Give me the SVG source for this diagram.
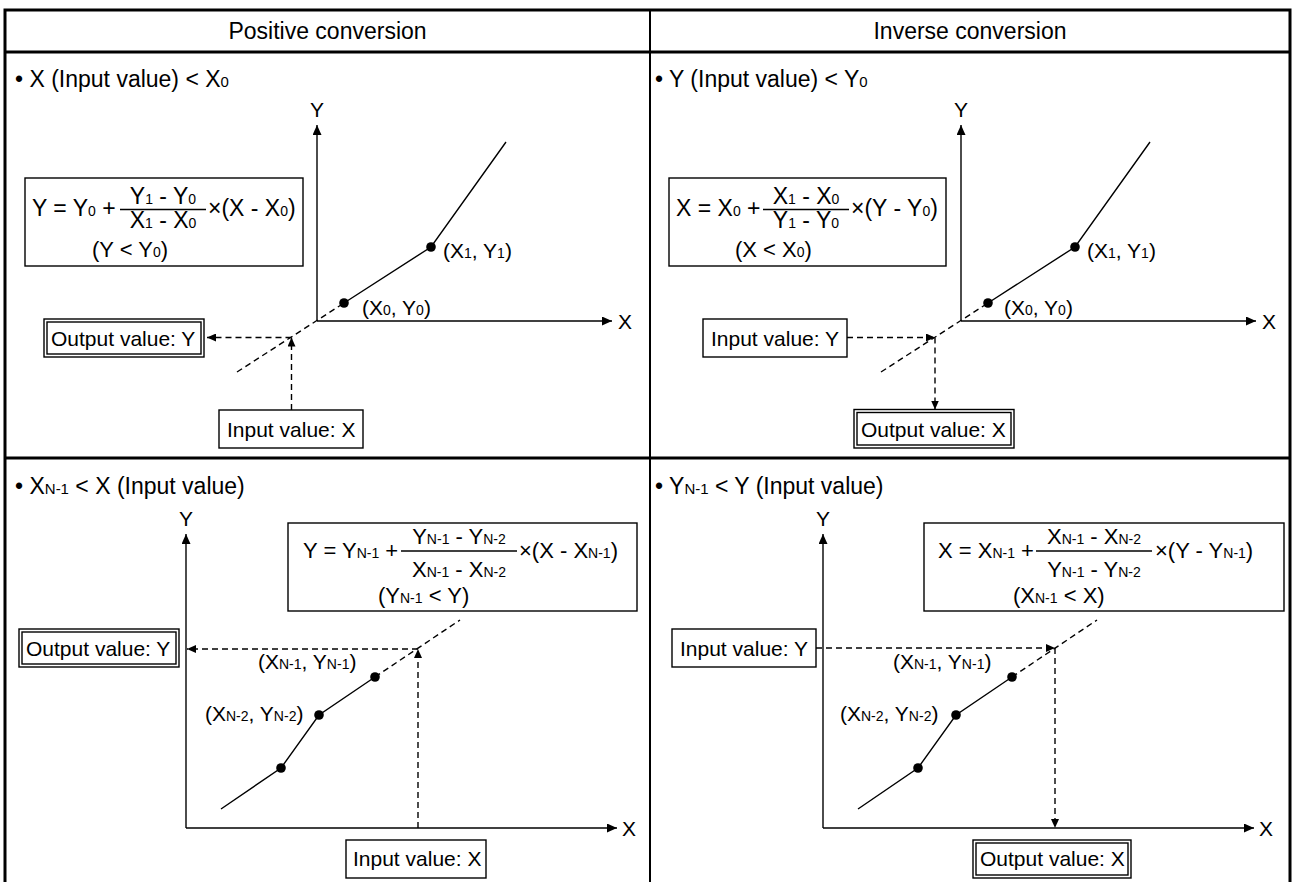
<svg xmlns="http://www.w3.org/2000/svg" width="1295" height="882" viewBox="0 0 1295 882">
<style>
text{font-family:"Liberation Sans",Arial,sans-serif;font-size:21px;fill:#000}
.h{font-size:23px}
.f{font-size:22px}
.f3{font-size:23px}
.s{font-size:14px}
.s2{font-size:15px}
.ln{stroke:#000;stroke-width:1.4;fill:none}
.ds{stroke-dasharray:6 4}
.box{fill:#fff;stroke:#000;stroke-width:1.4}
.tb{stroke:#000;stroke-width:3;fill:none}
.dv{stroke:#000;stroke-width:2;fill:none}
</style>
<defs>
<marker id="ah" viewBox="0 0 10 9" refX="10" refY="4.5" markerWidth="10" markerHeight="9" markerUnits="userSpaceOnUse" orient="auto"><path d="M0,0 L10,4.5 L0,9 z" fill="#000"/></marker>
<marker id="ahs" viewBox="0 0 9 8" refX="9" refY="4" markerWidth="9" markerHeight="8" markerUnits="userSpaceOnUse" orient="auto"><path d="M0,0 L9,4 L0,8 z" fill="#000"/></marker>
</defs>
<rect x="0" y="0" width="1295" height="882" fill="#fff"/>

<g id="table">
<path class="tb" d="M5,890 V10 H1290 V890"/>
<path class="tb" d="M5,52 H1290"/>
<path class="tb" d="M5,458 H1290"/>
<path class="dv" d="M650,10 V890"/>
</g>

<g id="hdr-positive"><text class="h" x="327.5" y="39" text-anchor="middle">Positive conversion</text></g>
<g id="hdr-inverse"><text class="h" x="970" y="39" text-anchor="middle">Inverse conversion</text></g>

<!-- Top-left panel -->
<g id="tl-cond"><text class="h" x="15" y="87">• X (Input value) &lt; X<tspan class="s2">0</tspan></text></g>
<g id="tl-formula">
<rect class="box" x="25" y="178" width="278" height="88"/>
<text class="f3" x="32" y="216">Y = Y<tspan class="s">0</tspan> +</text>
<text class="f3" x="163" y="204" text-anchor="middle">Y<tspan class="s">1</tspan> - Y<tspan class="s">0</tspan></text>
<line class="ln" x1="120" y1="209.5" x2="206" y2="209.5"/>
<text class="f3" x="163" y="228" text-anchor="middle">X<tspan class="s">1</tspan> - X<tspan class="s">0</tspan></text>
<text class="f3" x="208" y="216">×(X - X<tspan class="s">0</tspan>)</text>
<text class="f" x="92" y="257">(Y &lt; Y<tspan class="s">0</tspan>)</text>
</g>
<g id="tl-axes">
<path class="ln" d="M317,321 V125" marker-end="url(#ah)"/>
<path class="ln" d="M317,321 H612" marker-end="url(#ah)"/>
<text x="317" y="117" text-anchor="middle">Y</text>
<text x="618" y="329">X</text>
</g>
<g id="tl-curve">
<path class="ln" d="M344,303 L431,247 L506,142"/>
<path class="ln ds" d="M237,372 L344,303"/>
</g>
<g id="tl-p0"><circle cx="344" cy="303" r="4.8"/><text x="362" y="315">(X<tspan class="s">0</tspan>, Y<tspan class="s">0</tspan>)</text></g>
<g id="tl-p1"><circle cx="431" cy="247" r="4.8"/><text x="443" y="258">(X<tspan class="s">1</tspan>, Y<tspan class="s">1</tspan>)</text></g>
<g id="tl-output">
<rect class="box" x="44" y="319" width="160" height="38"/>
<rect class="box" x="47" y="322" width="154" height="32"/>
<text x="51" y="346">Output value: Y</text>
</g>
<g id="tl-input">
<rect class="box" x="219" y="410" width="144" height="38"/>
<text x="227" y="437">Input value: X</text>
</g>

<!-- Top-right panel -->
<g id="tr-cond"><text class="h" x="655" y="87">• Y (Input value) &lt; Y<tspan class="s2">0</tspan></text></g>
<g id="tr-formula">
<rect class="box" x="669" y="178" width="277" height="88"/>
<text class="f3" x="676" y="216">X = X<tspan class="s">0</tspan> +</text>
<text class="f3" x="806" y="204" text-anchor="middle">X<tspan class="s">1</tspan> - X<tspan class="s">0</tspan></text>
<line class="ln" x1="763" y1="209.5" x2="849" y2="209.5"/>
<text class="f3" x="806" y="228" text-anchor="middle">Y<tspan class="s">1</tspan> - Y<tspan class="s">0</tspan></text>
<text class="f3" x="851" y="216">×(Y - Y<tspan class="s">0</tspan>)</text>
<text class="f" x="735" y="257">(X &lt; X<tspan class="s">0</tspan>)</text>
</g>
<g id="tr-axes">
<path class="ln" d="M961,321 V125" marker-end="url(#ah)"/>
<path class="ln" d="M961,321 H1256" marker-end="url(#ah)"/>
<text x="961" y="117" text-anchor="middle">Y</text>
<text x="1262" y="329">X</text>
</g>
<g id="tr-curve">
<path class="ln" d="M988,303 L1075,247 L1150,142"/>
<path class="ln ds" d="M881,372 L988,303"/>
</g>
<g id="tr-p0"><circle cx="988" cy="303" r="4.8"/><text x="1004" y="315">(X<tspan class="s">0</tspan>, Y<tspan class="s">0</tspan>)</text></g>
<g id="tr-p1"><circle cx="1075" cy="247" r="4.8"/><text x="1087" y="258">(X<tspan class="s">1</tspan>, Y<tspan class="s">1</tspan>)</text></g>
<g id="tr-input">
<rect class="box" x="703" y="319" width="144" height="38"/>
<text x="711" y="346">Input value: Y</text>
</g>
<g id="tr-output">
<rect class="box" x="854" y="409.5" width="160" height="38.5"/>
<rect class="box" x="857" y="412.5" width="154" height="32.5"/>
<text x="861" y="437">Output value: X</text>
</g>

<!-- Bottom-left panel -->
<g id="bl-cond"><text class="h" x="15" y="494">• X<tspan class="s2">N-1</tspan> &lt; X (Input value)</text></g>
<g id="bl-formula">
<rect class="box" x="288" y="523" width="349" height="88"/>
<text class="f" x="303" y="558">Y = Y<tspan class="s">N-1</tspan> +</text>
<text class="f" x="459" y="544" text-anchor="middle">Y<tspan class="s">N-1</tspan> - Y<tspan class="s">N-2</tspan></text>
<line class="ln" x1="401" y1="551" x2="517" y2="551"/>
<text class="f" x="459" y="577" text-anchor="middle">X<tspan class="s">N-1</tspan> - X<tspan class="s">N-2</tspan></text>
<text class="f" x="519" y="558">×(X - X<tspan class="s">N-1</tspan>)</text>
<text class="f" x="378" y="603">(Y<tspan class="s">N-1</tspan> &lt; Y)</text>
</g>
<g id="bl-axes">
<path class="ln" d="M186,828 V534" marker-end="url(#ah)"/>
<path class="ln" d="M186,828 H617" marker-end="url(#ah)"/>
<text x="186" y="526" text-anchor="middle">Y</text>
<text x="622" y="836">X</text>
</g>
<g id="bl-curve">
<path class="ln" d="M221,809 L281,768 L319,715 L375,677"/>
<path class="ln ds" d="M375,677 L460,620"/>
<circle cx="281" cy="768" r="4.8"/>
</g>
<g id="bl-pn2"><circle cx="319" cy="715" r="4.8"/><text x="205" y="721">(X<tspan class="s">N-2</tspan>, Y<tspan class="s">N-2</tspan>)</text></g>
<g id="bl-pn1"><circle cx="375" cy="677" r="4.8"/><text x="258" y="669">(X<tspan class="s">N-1</tspan>, Y<tspan class="s">N-1</tspan>)</text></g>
<g id="bl-output">
<rect class="box" x="19" y="629" width="160" height="38"/>
<rect class="box" x="22" y="632" width="154" height="32"/>
<text x="26" y="656">Output value: Y</text>
</g>
<g id="bl-input">
<rect class="box" x="346" y="840" width="140" height="38"/>
<text x="353" y="866">Input value: X</text>
</g>

<!-- Bottom-right panel -->
<g id="br-cond"><text class="h" x="655" y="494">• Y<tspan class="s2">N-1</tspan> &lt; Y (Input value)</text></g>
<g id="br-formula">
<rect class="box" x="924" y="523" width="360" height="88"/>
<text class="f" x="938" y="558">X = X<tspan class="s">N-1</tspan> +</text>
<text class="f" x="1094" y="544" text-anchor="middle">X<tspan class="s">N-1</tspan> - X<tspan class="s">N-2</tspan></text>
<line class="ln" x1="1036" y1="551" x2="1152" y2="551"/>
<text class="f" x="1094" y="577" text-anchor="middle">Y<tspan class="s">N-1</tspan> - Y<tspan class="s">N-2</tspan></text>
<text class="f" x="1155" y="558">×(Y - Y<tspan class="s">N-1</tspan>)</text>
<text class="f" x="1013" y="603">(X<tspan class="s">N-1</tspan> &lt; X)</text>
</g>
<g id="br-axes">
<path class="ln" d="M823,828 V534" marker-end="url(#ah)"/>
<path class="ln" d="M823,828 H1254" marker-end="url(#ah)"/>
<text x="823" y="526" text-anchor="middle">Y</text>
<text x="1259" y="836">X</text>
</g>
<g id="br-curve">
<path class="ln" d="M858,809 L918,768 L956,715 L1012,677"/>
<path class="ln ds" d="M1012,677 L1097,620"/>
<circle cx="918" cy="768" r="4.8"/>
</g>
<g id="br-pn2"><circle cx="956" cy="715" r="4.8"/><text x="840" y="721">(X<tspan class="s">N-2</tspan>, Y<tspan class="s">N-2</tspan>)</text></g>
<g id="br-pn1"><circle cx="1012" cy="677" r="4.8"/><text x="893" y="669">(X<tspan class="s">N-1</tspan>, Y<tspan class="s">N-1</tspan>)</text></g>
<g id="br-input">
<rect class="box" x="672" y="629" width="144" height="38"/>
<text x="680" y="656">Input value: Y</text>
</g>
<g id="br-output">
<rect class="box" x="973" y="840" width="158" height="38"/>
<rect class="box" x="976" y="843" width="152" height="32"/>
<text x="980" y="866">Output value: X</text>
</g>

<g id="connectors">
<path class="ln ds" d="M291.5,337.5 H207" marker-end="url(#ahs)"/>
<path class="ln ds" d="M291.5,410 V337.5" marker-end="url(#ahs)"/>
<path class="ln ds" d="M847,337.5 H935" marker-end="url(#ahs)"/>
<path class="ln ds" d="M935,337.5 V409.5" marker-end="url(#ahs)"/>
<path class="ln ds" d="M418,828 V649" marker-end="url(#ahs)"/>
<path class="ln ds" d="M418,649 H187" marker-end="url(#ahs)"/>
<path class="ln ds" d="M816,648 H1055" marker-end="url(#ahs)"/>
<path class="ln ds" d="M1055,648 V828" marker-end="url(#ahs)"/>
</g>
</svg>
